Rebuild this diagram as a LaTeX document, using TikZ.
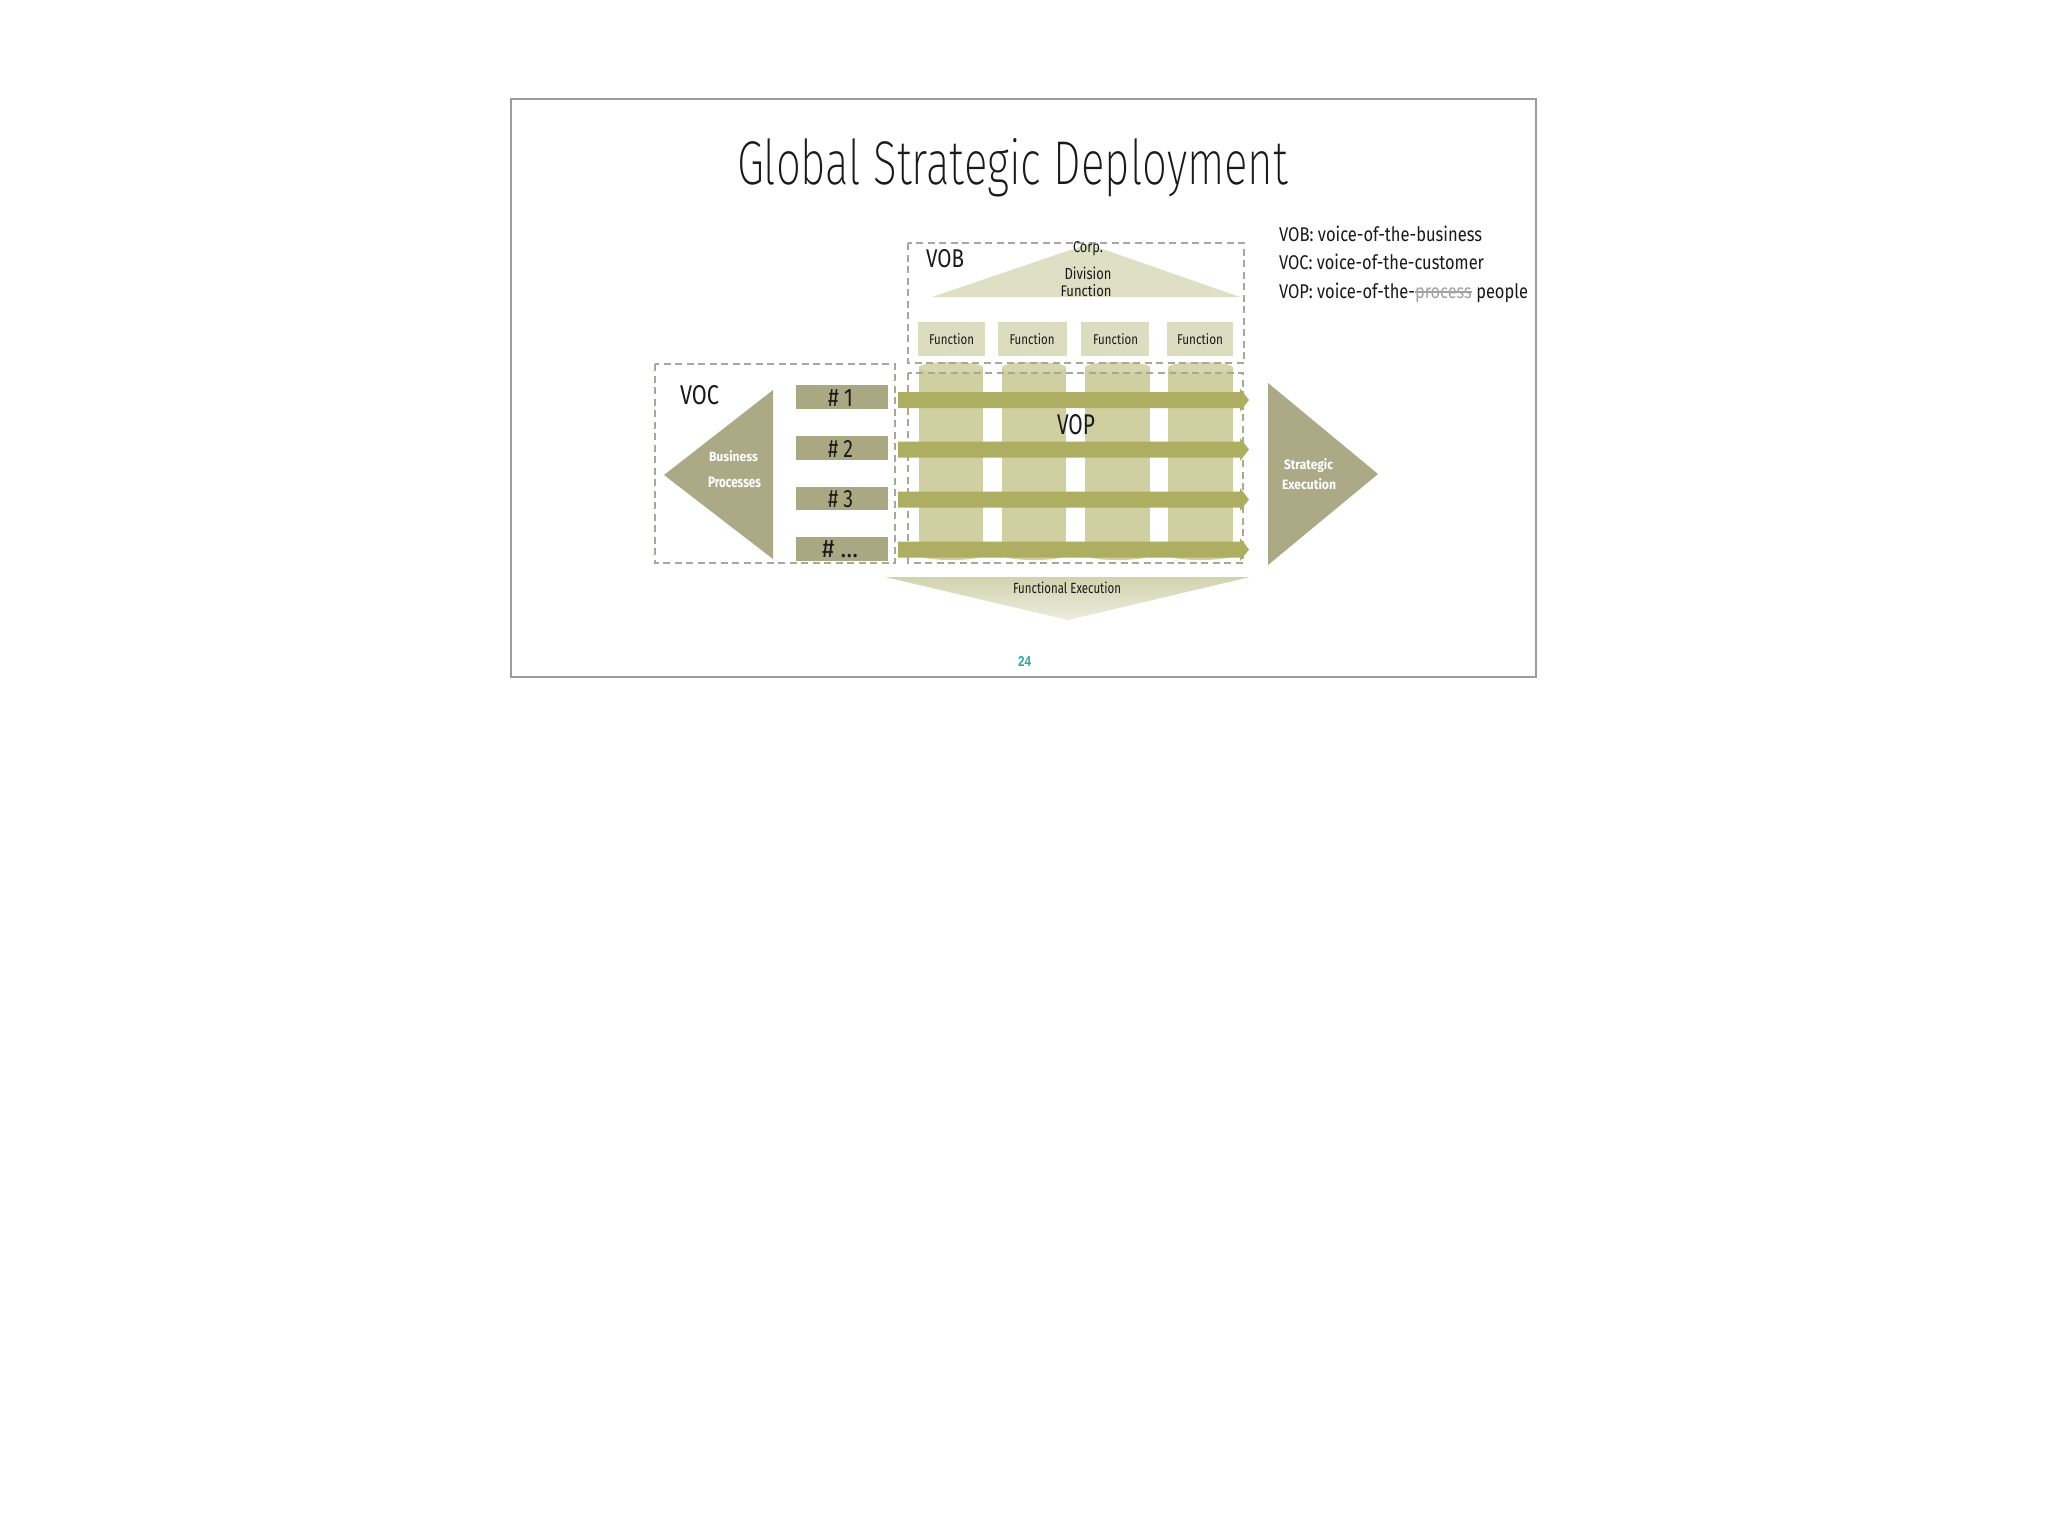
\documentclass[tikz,border=0pt]{standalone}
\usepackage{fontspec}
\usepackage{graphicx}
\setmainfont{Fira Sans}
\newcommand{\trytitle}[2]{\IfFontExistsTF{#1}{\newfontfamily\titlefont{#1}}{#2}}
\trytitle{Fira Sans ExtraLight}{%
 \trytitle{Fira Sans Light}{%
  \trytitle{FiraSans-ExtraLight}{%
   \trytitle{FiraSans-Light}{%
    \trytitle{Poppins ExtraLight}{%
     \trytitle{Poppins Light}{%
      \trytitle{Lato Light}{%
       \newfontfamily\titlefont{Fira Sans}}}}}}}}
\newfontfamily\numfont{Liberation Sans}
\newcommand{\fitto}[3]{\resizebox{#1pt}{#2pt}{#3}}
\newlength\mystw
\newcommand{\strikeit}[1]{\settowidth{\mystw}{#1}\rlap{\rule[0.27em]{\mystw}{0.07em}}#1}
\definecolor{arrowc}{HTML}{ADAE61}
\definecolor{cylc}{HTML}{CFCFA1}
\definecolor{cyltopc}{HTML}{D6D5AE}
\definecolor{funcc}{HTML}{DCDCC0}
\definecolor{vobtric}{HTML}{DEDFC4}
\definecolor{sidetric}{HTML}{ABA986}
\definecolor{numc}{HTML}{A9A883}
\definecolor{fetopc}{HTML}{D2D3AE}
\definecolor{febotc}{HTML}{EBECDD}
\definecolor{dashc}{HTML}{A8A898}
\definecolor{framec}{HTML}{9C9C9C}
\definecolor{tealc}{HTML}{2AA8A3}
\definecolor{strikec}{HTML}{A3A3A3}
\definecolor{textc}{HTML}{1A1A1A}
\begin{document}
\begin{tikzpicture}[x=1pt,y=-1pt,
  txt/.style={inner sep=0pt, outer sep=0pt, text=textc},
  wtxt/.style={inner sep=0pt, outer sep=0pt, text=white},
  dashbox/.style={draw=dashc, line width=1.6pt, dash pattern=on 7pt off 4.5pt},
  funcbox/.style={fill=funcc},
  numbox/.style={fill=numc},
  arrowbar/.style={fill=arrowc},
  cylbody/.style={fill=cylc},
  cyltop/.style={fill=cyltopc}]
\useasboundingbox (0,0) rectangle (2048,1527);
\fill[white] (0,0) rectangle (2048,1527);
% slide frame
\draw[framec, line width=1.3pt] (511,99) rectangle (1536,677);
% title
\node[txt, anchor=base west] (title) at (737,184) {\fitto{551}{46}{\titlefont Global Strategic Deployment}};
% legend
\node[txt, anchor=base west] (leg1) at (1279,241) {\fitto{203}{15.5}{VOB: voice-of-the-business}};
\node[txt, anchor=base west] (leg2) at (1279,269) {\fitto{205}{15.5}{VOC: voice-of-the-customer}};
\node[txt, anchor=base west] (leg3) at (1279,298) {\fitto{249}{15.5}{VOP: voice-of-the-{\color{strikec}\strikeit{process}} people}};
% VOB triangle
\fill[vobtric] (932,297) -- (1088,244) -- (1240,297) -- cycle;
% side triangles
\fill[sidetric] (773,390) -- (664,475) -- (773,559) -- cycle;
\fill[sidetric] (1268,383) -- (1378,474) -- (1268,565) -- cycle;
% functional execution triangle
\shade[top color=fetopc, bottom color=febotc] (885,577) -- (1250,577) -- (1068,620) -- cycle;
% function boxes
\fill[funcbox] (918,322) rectangle (985,356);
\fill[funcbox] (998,322) rectangle (1067,356);
\fill[funcbox] (1081,322) rectangle (1149,356);
\fill[funcbox] (1167,322) rectangle (1233,356);
% cylinders
\foreach \xa/\xb in {919/983, 1002/1066, 1085/1150, 1168/1233}{
  \pgfmathsetmacro{\cx}{(\xa+\xb)/2}
  \pgfmathsetmacro{\rx}{(\xb-\xa)/2}
  \fill[cylbody] (\xa,367.5) rectangle (\xb,555);
  \fill[cylbody] (\cx,555) ellipse[x radius=\rx, y radius=5];
  \fill[cyltop] (\cx,367.5) ellipse[x radius=\rx, y radius=5.5];
}
% dashed boxes
\draw[dashbox] (655,364) rectangle (895,563);
\draw[dashbox] (908,243) rectangle (1244,363);
\draw[dashbox] (908,373) rectangle (1243,563);
% number boxes
\fill[numbox] (796,385) rectangle (888,409);
\fill[numbox] (796,436) rectangle (888,460);
\fill[numbox] (796,487) rectangle (888,510);
\fill[numbox] (796,537) rectangle (888,561);
% arrows
\foreach \c in {400,449.5,499.5,549.5}{
  \fill[arrowbar] (898,\c-8) -- (1240,\c-8) -- (1240,\c-11.5) -- (1249,\c)
    -- (1240,\c+11.5) -- (1240,\c+8) -- (898,\c+8) -- cycle;
}
% labels
\node[txt, anchor=base west] (vob) at (926,267) {\fitto{38}{18}{VOB}};
\node[txt, anchor=base west] (voc) at (680,404) {\fitto{39}{19}{VOC}};
\node[txt, anchor=base west] (vop) at (1057,434) {\fitto{38}{20}{VOP}};
\node[txt, anchor=base] (corp) at (1088,252.7) {\fitto{30}{11}{Corp.}};
\node[txt, anchor=base] (div) at (1088,279.3) {\fitto{47}{12.5}{Division}};
\node[txt, anchor=base] (fun) at (1086,296.7) {\fitto{51}{12}{Function}};
\node[txt, anchor=base] (f1) at (951.5,344) {\fitto{45}{11}{Function}};
\node[txt, anchor=base] (f2) at (1032,344) {\fitto{45}{11}{Function}};
\node[txt, anchor=base] (f3) at (1115.5,344) {\fitto{45}{11}{Function}};
\node[txt, anchor=base] (f4) at (1200,344) {\fitto{46}{11}{Function}};
\node[txt, anchor=base] (n1) at (840.5,406) {\fitto{25}{17}{\# 1}};
\node[txt, anchor=base] (n2) at (840.5,457) {\fitto{25}{17}{\# 2}};
\node[txt, anchor=base] (n3) at (840.5,507) {\fitto{25}{17}{\# 3}};
\node[txt, anchor=base] (n4) at (840,557) {\fitto{36}{17}{\# \dots}};
\node[wtxt, anchor=base] (bus) at (733.5,461) {\fitto{49}{10.8}{\bfseries Business}};
\node[wtxt, anchor=base] (proc) at (734.5,487) {\fitto{53}{10.5}{\bfseries Processes}};
\node[wtxt, anchor=base] (strat) at (1308.5,469) {\fitto{49}{11}{\bfseries Strategic}};
\node[wtxt, anchor=base] (exec) at (1309,489) {\fitto{54}{11}{\bfseries Execution}};
\node[txt, anchor=base] (fe) at (1067,593) {\fitto{108}{11.5}{Functional Execution}};
\node[inner sep=0pt, text=tealc, anchor=base] (pg) at (1024.5,666) {\fitto{13}{10}{\numfont\bfseries 24}};
\end{tikzpicture}
\end{document}
